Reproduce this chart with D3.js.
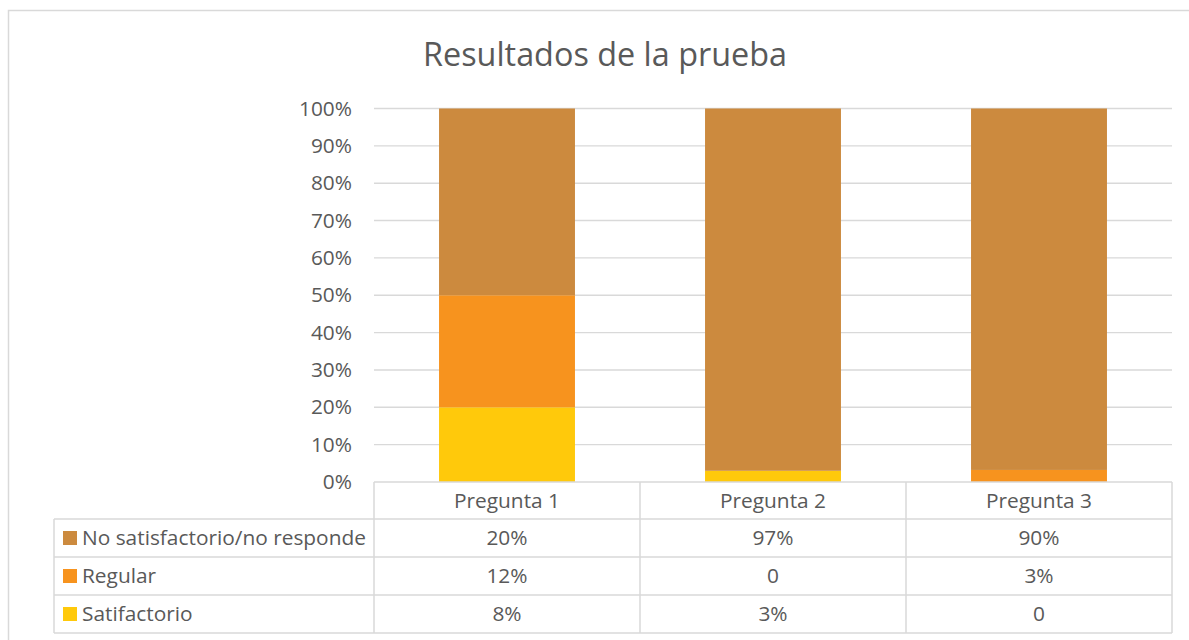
<!DOCTYPE html>
<html><head><meta charset="utf-8">
<script src="https://cdn.jsdelivr.net/npm/d3@7"></script>
<style>html,body{margin:0;padding:0;background:#fff;}svg{display:block;font-family:"Open Sans",sans-serif;}</style>
</head><body>
<svg id="c" width="1189" height="640"></svg>
<script>
const title = "Resultados de la prueba";
const categories = ["Pregunta 1", "Pregunta 2", "Pregunta 3"];
const seriesNames = ["No satisfactorio/no responde", "Regular", "Satifactorio"];
const noSatisfactorio = [20, 97, 90];
const regular = [12, 0, 3];
const satisfactorio = [8, 3, 0];
const yTicks = [0, 0.1, 0.2, 0.3, 0.4, 0.5, 0.6, 0.7, 0.8, 0.9, 1];
const colors = {"No satisfactorio/no responde": "#CC8A3E", "Regular": "#F7931E", "Satifactorio": "#FFC90B"};

const seriesValues = {"No satisfactorio/no responde": noSatisfactorio, "Regular": regular, "Satifactorio": satisfactorio};
const rows = categories.map((c, i) => ({cat: c, "Satifactorio": satisfactorio[i], "Regular": regular[i], "No satisfactorio/no responde": noSatisfactorio[i]}));

const svg = d3.select("#c");
const textColor = "#595959", gridColor = "#d9d9d9";

function fitSize(str, target) {
  const t = svg.append("text").style("font-size", "100px").text(str);
  const w = t.node().getComputedTextLength();
  t.remove();
  return 100 * target / w;
}

// outer border
svg.append("rect").attr("x", 8.5).attr("y", 10.5).attr("width", 1300).attr("height", 800)
  .attr("fill", "none").attr("stroke", gridColor).attr("stroke-width", 1.5);

const plotL = 374, plotR = 1172, yTop = 108.5, yBot = 482;
const x = d3.scaleBand().domain(categories).range([plotL, plotR]).paddingInner(0.489).paddingOuter(0.2445);
const y = d3.scaleLinear().domain([0, 1]).range([yBot, yTop]);

// title
const titleSize = fitSize(title, 364);
svg.append("text").attr("x", 605).attr("y", 66).attr("text-anchor", "middle")
  .style("font-size", titleSize + "px").attr("fill", textColor).text(title);

// gridlines
svg.append("g").selectAll("line").data(yTicks.filter(t => t > 0)).join("line")
  .attr("x1", plotL).attr("x2", plotR).attr("y1", d => y(d)).attr("y2", d => y(d))
  .attr("stroke", gridColor).attr("stroke-width", 1.4);

// y axis labels
const tickSize = fitSize("100%", 53);
const yAxis = d3.axisLeft(y).tickValues(yTicks).tickFormat(d3.format(".0%")).tickSize(0).tickPadding(22);
const ya = svg.append("g").attr("transform", `translate(${plotL},0)`).call(yAxis);
ya.select(".domain").remove();
ya.selectAll("text").style("font-size", tickSize + "px").attr("fill", textColor).style("font-family", '"Open Sans",sans-serif');

// stacked bars
const stack = d3.stack().keys(["Satifactorio", "Regular", "No satisfactorio/no responde"]).offset(d3.stackOffsetExpand);
const stacked = stack(rows);
svg.append("g").selectAll("g").data(stacked).join("g").attr("fill", d => colors[d.key])
  .selectAll("rect").data(d => d).join("rect")
  .attr("x", d => x(d.data.cat)).attr("width", x.bandwidth())
  .attr("y", d => y(d[1])).attr("height", d => Math.max(0, y(d[0]) - y(d[1])));

// data table
const headerBot = 519, rowH = 38, labelL = 54;
const rowYs = seriesNames.map((s, i) => headerBot + i * rowH);
const tableBot = headerBot + seriesNames.length * rowH;
const tbl = svg.append("g").attr("stroke", gridColor).attr("stroke-width", 1.5);
tbl.append("line").attr("x1", plotL).attr("x2", plotR).attr("y1", yBot).attr("y2", yBot);
[headerBot, ...rowYs.slice(1), tableBot].forEach(yy => {
  tbl.append("line").attr("x1", labelL).attr("x2", plotR).attr("y1", yy).attr("y2", yy);
});
const colEdges = categories.map(c => x(c) - x.step() * x.paddingInner() / 2);
colEdges.push(plotR);
colEdges.forEach(xx => tbl.append("line").attr("x1", xx).attr("x2", xx).attr("y1", yBot).attr("y2", tableBot));
tbl.append("line").attr("x1", labelL).attr("x2", labelL).attr("y1", headerBot).attr("y2", tableBot);

const cellSize = fitSize("No satisfactorio/no responde", 284);
// header
svg.append("g").selectAll("text").data(categories).join("text")
  .attr("x", d => x(d) + x.bandwidth() / 2).attr("y", (yBot + headerBot) / 2).attr("dy", "0.35em")
  .attr("text-anchor", "middle").style("font-size", cellSize + "px").attr("fill", textColor).text(d => d);

const fmt = v => v === 0 ? "0" : v + "%";
seriesNames.forEach((s, i) => {
  const cy = rowYs[i] + rowH / 2;
  svg.append("rect").attr("x", 63).attr("y", cy - 7).attr("width", 14).attr("height", 14).attr("fill", colors[s]);
  svg.append("text").attr("x", 82).attr("y", cy).attr("dy", "0.35em")
    .style("font-size", cellSize + "px").attr("fill", textColor).text(s);
  svg.append("g").selectAll("text").data(seriesValues[s]).join("text")
    .attr("x", (d, j) => x(categories[j]) + x.bandwidth() / 2).attr("y", cy).attr("dy", "0.35em")
    .attr("text-anchor", "middle").style("font-size", cellSize + "px").attr("fill", textColor).text(fmt);
});
</script>
</body></html>
